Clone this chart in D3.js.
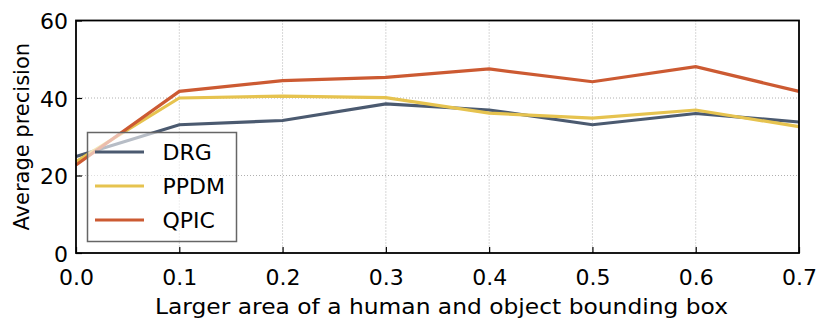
<!DOCTYPE html>
<html>
<head>
<meta charset="utf-8">
<script src="https://cdn.jsdelivr.net/npm/d3@7"></script>
<style>
  body { margin: 0; background: #fff; }
  text { font-family: "DejaVu Sans", sans-serif; }
</style>
</head>
<body>
<script>
var areas = [0.0, 0.1, 0.2, 0.3, 0.4, 0.5, 0.6, 0.7];
var drg  = [24.9, 33.1, 34.2, 38.5, 36.9, 33.1, 36.0, 33.8];
var ppdm = [23.6, 40.0, 40.5, 40.1, 36.1, 34.8, 36.9, 32.6];
var qpic = [22.7, 41.7, 44.5, 45.3, 47.5, 44.2, 48.1, 41.7];
var names = ["DRG", "PPDM", "QPIC"];
var colors = ["#4b5a70", "#e6c34f", "#cc5a32"];
var yTicks = [0, 20, 40, 60];

var W = 830, H = 330;
var margin = {top: 20.5, right: 31, bottom: 77, left: 76};
var w = W - margin.left - margin.right;
var h = H - margin.top - margin.bottom;

var svg = d3.select("body").append("svg")
  .attr("width", W)
  .attr("height", H);

var g = svg.append("g")
  .attr("transform", "translate(" + margin.left + "," + margin.top + ")");

var x = d3.scaleLinear().domain([0, 0.7]).range([0, w]);
var y = d3.scaleLinear().domain([0, 60]).range([h, 0]);

// grid
g.append("g").selectAll("line.gx")
  .data(areas.slice(1, -1))
  .enter().append("line")
  .attr("x1", d => x(d)).attr("x2", d => x(d))
  .attr("y1", 0).attr("y2", h)
  .attr("stroke", "#b0b0b0").attr("stroke-width", 1)
  .attr("stroke-dasharray", "1,2");
g.append("g").selectAll("line.gy")
  .data(yTicks.slice(1, -1))
  .enter().append("line")
  .attr("x1", 0).attr("x2", w)
  .attr("y1", d => y(d)).attr("y2", d => y(d))
  .attr("stroke", "#b0b0b0").attr("stroke-width", 1)
  .attr("stroke-dasharray", "1,2");

// lines
var series = [drg, ppdm, qpic];
var line = d3.line()
  .x((d, i) => x(areas[i]))
  .y(d => y(d));

g.selectAll("path.series")
  .data(series)
  .enter().append("path")
  .attr("class", "series")
  .attr("d", d => line(d))
  .attr("fill", "none")
  .attr("stroke", (d, i) => colors[i])
  .attr("stroke-width", 3.2);

// axes (ticks inward)
var xAxis = d3.axisBottom(x).tickValues(areas).tickFormat(d3.format(".1f"))
  .tickSizeInner(-6).tickSizeOuter(0).tickPadding(16);
var yAxis = d3.axisLeft(y).tickValues(yTicks).tickFormat(d3.format("d"))
  .tickSizeInner(-6).tickSizeOuter(0).tickPadding(8);

var gx = g.append("g").attr("transform", "translate(0," + h + ")").call(xAxis);
var gy = g.append("g").call(yAxis);
[gx, gy].forEach(function(a){
  a.select(".domain").remove();
  a.selectAll("line").attr("stroke", "#000").attr("stroke-width", 1.2);
  a.selectAll("text").attr("font-size", 22).attr("fill", "#000")
    .attr("font-family", "DejaVu Sans");
});
gy.selectAll("text").attr("dy", "0.38em");

// frame
g.append("rect")
  .attr("x", 0).attr("y", 0).attr("width", w).attr("height", h)
  .attr("fill", "none").attr("stroke", "#000").attr("stroke-width", 1.8);

// legend
var lg = g.append("g").attr("transform", "translate(" + (87.5 - margin.left) + "," + (132.5 - margin.top) + ")");
lg.append("rect")
  .attr("width", 149).attr("height", 109)
  .attr("fill", "rgba(255,255,255,0.6)")
  .attr("stroke", "#666").attr("stroke-width", 1.5);
var items = lg.selectAll("g.item")
  .data(names)
  .enter().append("g")
  .attr("transform", (d, i) => "translate(0," + (19.5 + i * 34) + ")");
items.append("line")
  .attr("x1", 7.5).attr("x2", 56.5)
  .attr("stroke", (d, i) => colors[i])
  .attr("stroke-width", 3.2);
items.append("text")
  .attr("x", 75).attr("dy", "0.36em")
  .attr("font-size", 22)
  .text(d => d);

// labels
svg.append("text")
  .attr("transform", "translate(29," + (margin.top + h / 2) + ") rotate(-90)")
  .attr("text-anchor", "middle")
  .attr("font-size", 21)
  .text("Average precision");
svg.append("text")
  .attr("x", margin.left + w / 2 + 4)
  .attr("y", 314)
  .attr("text-anchor", "middle")
  .attr("font-size", 22)
  .attr("textLength", 573)
  .attr("lengthAdjust", "spacingAndGlyphs")
  .text("Larger area of a human and object bounding box");
</script>
</body>
</html>
